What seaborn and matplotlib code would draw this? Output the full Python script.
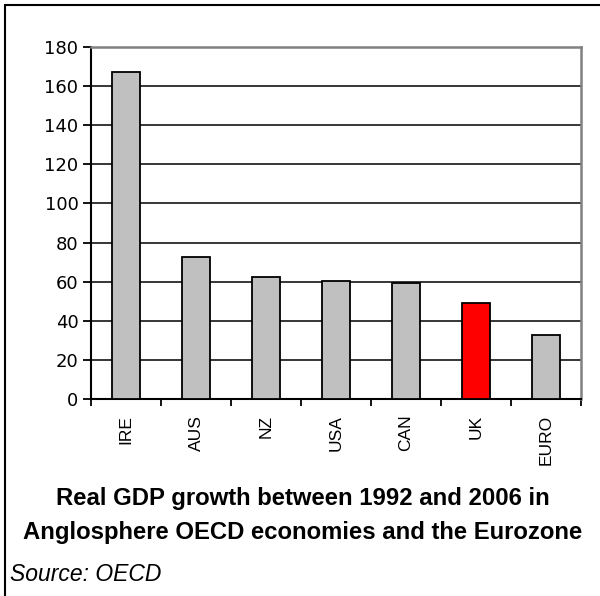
import matplotlib
matplotlib.use("Agg")
import matplotlib.pyplot as plt
from matplotlib.patches import Rectangle
import seaborn as sns
import pandas as pd

countries = ["IRE", "AUS", "NZ", "USA", "CAN", "UK", "EURO"]
growth = [167, 72.5, 62.3, 60.2, 59.3, 49.0, 32.6]
bar_colors = ["#C0C0C0", "#C0C0C0", "#C0C0C0", "#C0C0C0", "#C0C0C0", "#FF0000", "#C0C0C0"]
y_ticks = [0, 20, 40, 60, 80, 100, 120, 140, 160, 180]

df = pd.DataFrame({"country": countries, "growth": growth})

sns.set_theme(style="white")
plt.rcParams["font.family"] = ["DejaVu Sans"]
plt.rcParams["text.color"] = "black"
plt.rcParams["xtick.color"] = "black"
plt.rcParams["ytick.color"] = "black"

W, H = 600, 596
fig = plt.figure(figsize=(W / 100, H / 100), dpi=100)
ax = fig.add_axes([91 / W, 1 - 399 / H, (581 - 91) / W, (399 - 47) / H])

sns.barplot(data=df, x="country", y="growth", hue="country",
            palette=dict(zip(countries, bar_colors)), legend=False,
            width=0.39, edgecolor="black", linewidth=1.3, saturation=1,
            ax=ax, zorder=3)

ax.set_ylim(0, 180)
ax.set_xlim(-0.5, len(countries) - 0.5)
ax.set_yticks(y_ticks)
ax.set_yticklabels([str(t) for t in y_ticks], fontsize=13, color="black")
for t in y_ticks[1:-1]:
    ax.axhline(t, color="black", linewidth=1.1, zorder=1)
ax.set_xlabel("")
ax.set_ylabel("")

# category ticks sit on the boundaries between bars
ax.set_xticks([i - 0.5 for i in range(len(countries) + 1)])
ax.set_xticklabels([])
ax.tick_params(axis="x", direction="out", length=5, width=1.3,
               color="black", bottom=True)
ax.tick_params(axis="y", direction="out", length=6, width=1.3, color="black",
               left=True, pad=3)
for i, name in enumerate(countries):
    ax.text(i, -0.045, name, transform=ax.get_xaxis_transform(), rotation=90,
            ha="center", va="top", fontsize=12.5, family="Liberation Sans",
            color="black")

ax.spines["left"].set_color("black")
ax.spines["left"].set_linewidth(1.5)
ax.spines["bottom"].set_color("black")
ax.spines["bottom"].set_linewidth(1.5)
ax.spines["top"].set_color("#808080")
ax.spines["top"].set_linewidth(1.8)
ax.spines["right"].set_color("#808080")
ax.spines["right"].set_linewidth(1.8)

cx = 0.5 * (5 + W) / W
fig.text(cx, 1 - 505 / H, "Real GDP growth between 1992 and 2006 in",
         ha="center", va="baseline", fontsize=17.2, fontweight="bold",
         family="Liberation Sans", color="black")
fig.text(cx, 1 - 539 / H, "Anglosphere OECD economies and the Eurozone",
         ha="center", va="baseline", fontsize=17.2, fontweight="bold",
         family="Liberation Sans", color="black")
fig.text(10 / W, 1 - 581 / H, "Source: OECD", ha="left", va="baseline",
         fontsize=16.5, style="italic", family="Liberation Sans", color="black")

# outer frame of the chart
fig.patches.append(Rectangle((5 / W, -0.1), 1.2, 1 - 5 / H + 0.1,
                             transform=fig.transFigure, fill=False,
                             edgecolor="black", linewidth=1.5))

fig.savefig("out.png", dpi=100)
